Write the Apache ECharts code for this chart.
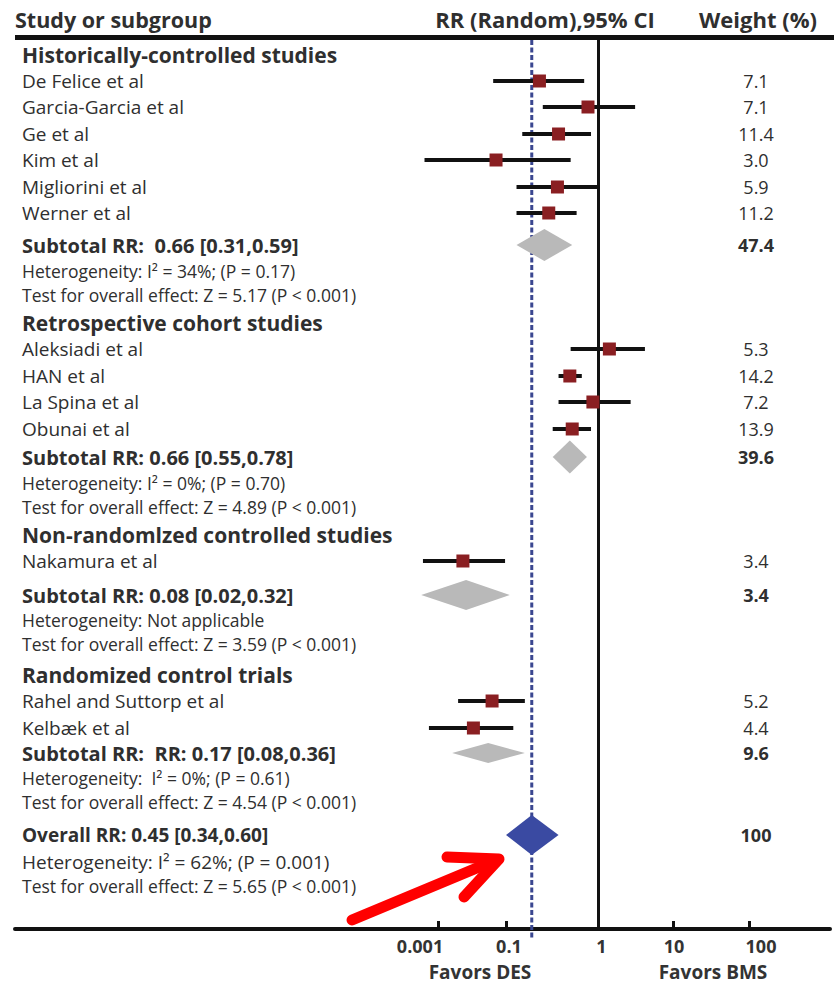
<!DOCTYPE html>
<html>
<head>
<meta charset="utf-8">
<title>Forest plot: DES vs BMS</title>
<script src="https://cdn.jsdelivr.net/npm/echarts@6/dist/echarts.min.js"></script>
<style>
  html, body { margin: 0; padding: 0; background: #ffffff; }
  #chart { width: 834px; height: 986px; }
</style>
</head>
<body>
<div id="chart"></div>
<script>
// ---------------- data ----------------
const groupTitles = [
  'Historically-controlled studies',
  'Retrospective cohort studies',
  'Non-randomlzed controlled studies',
  'Randomized control trials'
];
const groupSizes = [6, 4, 1, 2];

const studyNames = [
  'De Felice et al', 'Garcia-Garcia et al', 'Ge et al', 'Kim et al', 'Migliorini et al', 'Werner et al',
  'Aleksiadi et al', 'HAN et al', 'La Spina et al', 'Obunai et al',
  'Nakamura et al',
  'Rahel and Suttorp et al', 'Kelbæk et al'
];
// risk ratios as plotted on the printed axis
const studyRR   = [0.23, 0.77, 0.37, 0.051, 0.36, 0.29, 1.4, 0.49, 0.87, 0.52, 0.0054, 0.039, 0.011];
const studyLow  = [0.042, 0.25, 0.15, 0.0004, 0.13, 0.13, 0.50, 0.37, 0.37, 0.32, 0.00036, 0.0039, 0.00054];
const studyHigh = [0.70, 3.1, 0.83, 0.50, 1.0, 0.58, 4.2, 0.66, 2.7, 0.83, 0.094, 0.16, 0.12];
const studyWeights = ['7.1', '7.1', '11.4', '3.0', '5.9', '11.2', '5.3', '14.2', '7.2', '13.9', '3.4', '5.2', '4.4'];

const subtotalLabels = [
  'Subtotal RR:  0.66 [0.31,0.59]',
  'Subtotal RR: 0.66 [0.55,0.78]',
  'Subtotal RR: 0.08 [0.02,0.32]',
  'Subtotal RR:  RR: 0.17 [0.08,0.36]'
];
const heterogeneityLabels = [
  'Heterogeneity: I\u00B2 = 34%; (P = 0.17)',
  'Heterogeneity: I\u00B2 = 0%; (P = 0.70)',
  'Heterogeneity: Not applicable',
  'Heterogeneity:  I\u00B2 = 0%; (P = 0.61)'
];
const effectLabels = [
  'Test for overall effect: Z = 5.17 (P < 0.001)',
  'Test for overall effect: Z = 4.89 (P < 0.001)',
  'Test for overall effect: Z = 3.59 (P < 0.001)',
  'Test for overall effect: Z = 4.54 (P < 0.001)'
];
const subtotalRR   = [0.26, 0.49, 0.0067, 0.030];
const subtotalLow  = [0.13, 0.32, 0.00032, 0.0026];
const subtotalHigh = [0.52, 0.75, 0.11, 0.16];
const subtotalWeights = ['47.4', '39.6', '3.4', '9.6'];

const overallLabel = 'Overall RR: 0.45 [0.34,0.60]';
const overallHeterogeneity = 'Heterogeneity: I\u00B2 = 62%; (P = 0.001)';
const overallEffect = 'Test for overall effect: Z = 5.65 (P < 0.001)';
const overallRR = 0.19;
const overallLow = 0.10;
const overallHigh = 0.37;
const overallWeight = '100';

const tickValues = [0.001, 0.1, 1, 10, 100];
const tickLabels = ['0.001', '0.1', '1', '10', '100'];

// ---------------- layout & style ----------------
const FONT = '"Open Sans", "Noto Sans", sans-serif';
const INK = '#2f2f2f';
const ROW_Y = [55, 81, 107, 134, 160, 187, 213, 245, 271, 295,
               323, 349, 376, 402, 429, 457, 483, 507,
               535, 561, 595, 620, 644,
               675, 701, 728, 753, 778, 802,
               835, 862, 886];
const DIAMOND_HALF = [16, 16.5, 15, 10, 20];
const AXIS_Y = 929;
const TEXT_X = 7;        // offset of the study column from the grid's left edge
const WEIGHT_X = 741;    // centre of the weight column from the grid's left edge

// The printed axis is log-scaled piecewise between its labelled ticks.
const KNOT_LOG = [-3, -1, 0, 1, 2];
const KNOT_U = [-2.154, -1.242, 0, 1, 2.020];
function axisU(rr) {
  const L = Math.log10(rr);
  let i = 0;
  while (i < KNOT_LOG.length - 2 && L > KNOT_LOG[i + 1]) i++;
  const t = (L - KNOT_LOG[i]) / (KNOT_LOG[i + 1] - KNOT_LOG[i]);
  return KNOT_U[i] + t * (KNOT_U[i + 1] - KNOT_U[i]);
}

// ---------------- rows ----------------
const rows = [];
const studyRowY = [];
const pooledRowY = [];
let s = 0;
groupTitles.forEach((title, g) => {
  rows.push({ kind: 'group', text: title });
  for (let k = 0; k < groupSizes[g]; k++, s++) {
    rows.push({ kind: 'study', text: studyNames[s], weight: studyWeights[s], study: s });
  }
  rows.push({ kind: 'subtotal', text: subtotalLabels[g], weight: subtotalWeights[g], pooled: g });
  rows.push({ kind: 'het', text: heterogeneityLabels[g] });
  rows.push({ kind: 'test', text: effectLabels[g] });
});
rows.push({ kind: 'overall', text: overallLabel, weight: overallWeight, pooled: 4 });
rows.push({ kind: 'het2', text: overallHeterogeneity });
rows.push({ kind: 'test', text: overallEffect });
rows.forEach((r, i) => {
  r.y = ROW_Y[i];
  if (r.kind === 'study') studyRowY[r.study] = r.y;
  if (r.pooled !== undefined) pooledRowY[r.pooled] = r.y;
});

const TEXT_STYLE = {
  group:    'bold 21px ' + FONT,
  study:    '19px ' + FONT,
  subtotal: 'bold 20px ' + FONT,
  overall:  'bold 19px ' + FONT,
  het:      '17.5px ' + FONT,
  het2:     '19px ' + FONT,
  test:     '17.5px ' + FONT
};

const pooledLow  = subtotalLow.concat([overallLow]);
const pooledRR   = subtotalRR.concat([overallRR]);
const pooledHigh = subtotalHigh.concat([overallHigh]);

// ---------------- chart ----------------
const chart = echarts.init(document.getElementById('chart'), null, { renderer: 'svg' });

const GRID_LEFT = 15, GRID_RIGHT = 4;
const PX_PER_U = 74.5;
const X_MIN = -(598.5 - GRID_LEFT) / PX_PER_U;
const X_MAX = (834 - GRID_RIGHT - 598.5) / PX_PER_U;

const tickU = tickValues.map(axisU);
const labelShift = [
  [0, 36, 0, 0],
  [0, 0, 0, 6],
  [0, 0, 0, 6],
  [0, 0, 0, 2],
  [0, 0, 0, 24]
];
const rich = {};
labelShift.forEach((p, i) => {
  rich['t' + i] = { fontSize: 18, fontWeight: 'bold', fontFamily: FONT, color: '#333', padding: p };
});

const option = {
  backgroundColor: '#ffffff',
  animation: false,
  grid: { left: GRID_LEFT, right: GRID_RIGHT, top: 0, bottom: 986 - AXIS_Y },
  xAxis: {
    type: 'value',
    position: 'bottom',
    min: X_MIN,
    max: X_MAX,
    splitLine: { show: false },
    axisLine: { show: true, onZero: false, lineStyle: { color: '#111', width: 4 } },
    axisTick: {
      show: true, inside: true, length: 8,
      customValues: tickU,
      lineStyle: { color: '#111', width: 3 }
    },
    axisLabel: {
      show: true, margin: 8,
      customValues: tickU,
      formatter: (v) => {
        let best = 0;
        tickU.forEach((u, i) => { if (Math.abs(u - v) < Math.abs(tickU[best] - v)) best = i; });
        return '{t' + best + '|' + tickLabels[best] + '}';
      },
      rich: rich
    }
  },
  yAxis: { type: 'value', inverse: true, min: 0, max: AXIS_Y, show: false },
  graphic: [
    { type: 'text', x: 15, y: 19, style: { text: 'Study or subgroup', font: 'bold 21.5px ' + FONT, fill: INK, align: 'left', verticalAlign: 'middle' } },
    { type: 'text', x: 545, y: 19, style: { text: 'RR (Random),95% CI', font: 'bold 22px ' + FONT, fill: INK, align: 'center', verticalAlign: 'middle' } },
    { type: 'text', x: 758, y: 19, style: { text: 'Weight (%)', font: 'bold 22px ' + FONT, fill: INK, align: 'center', verticalAlign: 'middle' } },
    { type: 'rect', shape: { x: 15, y: 35, width: 819, height: 5 }, style: { fill: '#111' } },
    { type: 'text', x: 480, y: 972, style: { text: 'Favors DES', font: 'bold 19px ' + FONT, fill: '#333', align: 'center', verticalAlign: 'middle' } },
    { type: 'text', x: 713, y: 972, style: { text: 'Favors BMS', font: 'bold 19px ' + FONT, fill: '#333', align: 'center', verticalAlign: 'middle' } },
    // annotation arrow pointing at the pooled estimate
    { type: 'polyline', z: 100, shape: { points: [[352, 920], [496, 860]] },
      style: { stroke: '#ff0000', lineWidth: 11, lineCap: 'round', fill: null } },
    { type: 'polyline', z: 100, shape: { points: [[447, 857], [499, 859], [464, 897]] },
      style: { stroke: '#ff0000', lineWidth: 11, lineCap: 'round', lineJoin: 'round', fill: null } }
  ],
  series: [
    {
      // reference lines: no effect (RR = 1) and the pooled estimate
      type: 'custom',
      clip: false,
      z: 1,
      data: [[axisU(1), 0], [axisU(overallRR), 1]],
      renderItem: (params, api) => {
        const u = api.value(0);
        const pooled = api.value(1) === 1;
        const top = api.coord([u, 40]);
        const bottom = api.coord([u, pooled ? AXIS_Y + 9 : AXIS_Y]);
        return {
          type: 'line',
          shape: { x1: top[0], y1: top[1], x2: bottom[0], y2: bottom[1] },
          style: pooled
            ? { stroke: '#3a4790', lineWidth: 3, lineDash: [5, 2.5] }
            : { stroke: '#111', lineWidth: 3 }
        };
      }
    },
    {
      // study confidence intervals and point estimates
      type: 'custom',
      z: 3,
      data: studyRR.map((rr, i) => [axisU(studyLow[i]), axisU(rr), axisU(studyHigh[i]), studyRowY[i]]),
      renderItem: (params, api) => {
        const y = api.value(3);
        const a = api.coord([api.value(0), y]);
        const b = api.coord([api.value(2), y]);
        const c = api.coord([api.value(1), y]);
        return {
          type: 'group',
          children: [
            { type: 'line', shape: { x1: a[0], y1: a[1], x2: b[0], y2: b[1] }, style: { stroke: '#111', lineWidth: 4 } },
            { type: 'rect', shape: { x: c[0] - 6.5, y: c[1] - 6.5, width: 13, height: 13 }, style: { fill: '#8a1f22' } }
          ]
        };
      }
    },
    {
      // pooled estimates (subtotals and overall)
      type: 'custom',
      z: 2,
      data: pooledRR.map((rr, i) => [axisU(pooledLow[i]), axisU(rr), axisU(pooledHigh[i]), pooledRowY[i], i]),
      renderItem: (params, api) => {
        const y = api.value(3);
        const idx = api.value(4);
        const h = DIAMOND_HALF[idx];
        const lo = api.coord([api.value(0), y]);
        const mid = api.coord([api.value(1), y]);
        const hi = api.coord([api.value(2), y]);
        return {
          type: 'polygon',
          shape: { points: [[lo[0], lo[1]], [mid[0], mid[1] - h], [hi[0], hi[1]], [mid[0], mid[1] + h]] },
          style: { fill: idx === 4 ? '#3a4aa2' : '#b9b9b9' }
        };
      }
    },
    {
      // text columns: study labels and weights
      type: 'custom',
      z: 4,
      clip: false,
      data: rows.map((r) => [0, r.y]),
      renderItem: (params, api) => {
        const r = rows[params.dataIndex];
        const p = api.coord([0, api.value(1)]);
        const x0 = params.coordSys.x;
        const children = [{
          type: 'text',
          x: x0 + TEXT_X,
          y: p[1],
          style: { text: r.text, font: TEXT_STYLE[r.kind], fill: INK, align: 'left', verticalAlign: 'middle' }
        }];
        if (r.weight !== undefined) {
          children.push({
            type: 'text',
            x: x0 + WEIGHT_X,
            y: p[1],
            style: {
              text: r.weight,
              font: (r.kind === 'study' ? '' : 'bold ') + '18px ' + FONT,
              fill: INK, align: 'center', verticalAlign: 'middle'
            }
          });
        }
        return { type: 'group', children: children };
      }
    }
  ]
};

chart.setOption(option);
</script>
</body>
</html>
